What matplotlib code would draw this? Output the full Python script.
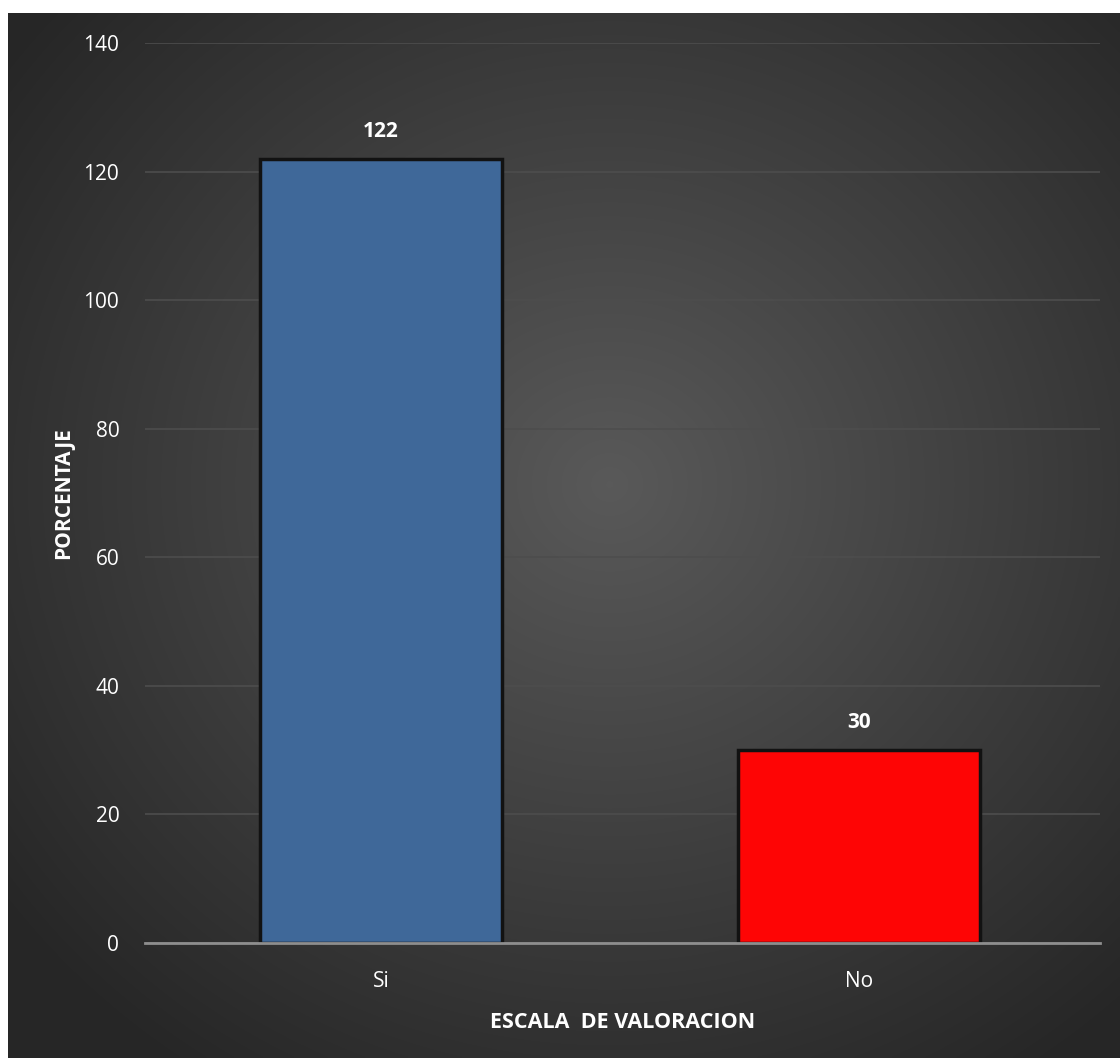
import numpy as np
import matplotlib
matplotlib.use("Agg")
import matplotlib.pyplot as plt

categories = ["Si", "No"]
values = [122, 30]
bar_colors = ["#3f6899", "#fe0505"]
yticks = [0, 20, 40, 60, 80, 100, 120, 140]

plt.rcParams['font.family'] = ['Open Sans', 'DejaVu Sans']

W, H, dpi = 1120, 1058, 100
fig = plt.figure(figsize=(W/dpi, H/dpi), dpi=dpi, facecolor='white')

# radial gradient background (dark panel with lighter centre)
bg = fig.add_axes([8/W, 0, 1 - 8/W, (H - 13)/H])
bg.axis('off')
ny, nx = 400, 420
yy, xx = np.mgrid[0:ny, 0:nx]
cx, cy = nx*0.54, ny*0.45
r = np.sqrt(((xx - cx)/(nx*0.68))**2 + ((yy - cy)/(ny*0.68))**2)
r = np.clip(r, 0, 1)
lo, hi = 0.15, 0.35
shade = hi - (hi - lo)*r
img = np.dstack([shade, shade, shade])
bg.imshow(img, aspect='auto', extent=[0, 1, 0, 1], interpolation='bilinear')
bg.set_xlim(0, 1); bg.set_ylim(0, 1)

ax = fig.add_axes([145/W, 115/H, 955/W, 900/H])
ax.patch.set_alpha(0)
x = np.arange(len(categories))
bars = ax.bar(x, values, width=0.505, color=bar_colors, edgecolor='#121212',
              linewidth=2.5, zorder=3)
for b, v in zip(bars, values):
    ax.text(b.get_x() + b.get_width()/2, v + 2.6, str(v), ha='center', va='bottom',
            color='white', fontsize=15, fontweight='bold')

ax.set_xlim(-0.494, 1.504)
ax.set_ylim(0, 140)
ax.set_yticks(yticks)
ax.set_xticks(x)
ax.set_xticklabels(categories)
ax.grid(axis='y', color='#4d4d4d', linewidth=1.2, zorder=0)
for s in ['top', 'right', 'left']:
    ax.spines[s].set_visible(False)
ax.spines['bottom'].set_color('#8e8e8e')
ax.spines['bottom'].set_linewidth(2)
ax.spines['bottom'].set_zorder(4)
ax.tick_params(axis='both', length=0, colors='white', labelsize=15)
ax.tick_params(axis='y', pad=18.5)
ax.tick_params(axis='x', pad=20)

ax.set_ylabel('PORCENTAJE', color='white', fontsize=15, fontweight='bold', labelpad=6.5)
ax.set_xlabel('ESCALA  DE VALORACION', color='white', fontsize=15.5, fontweight='bold', labelpad=14.5)

fig.savefig('out.png', dpi=dpi, facecolor='white')
